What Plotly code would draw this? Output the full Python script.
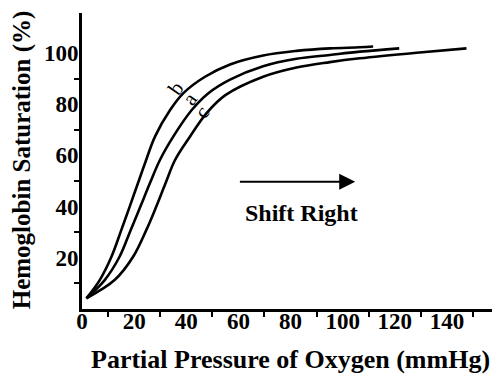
import plotly.graph_objects as go

# Oxygen-hemoglobin dissociation curves
b_po2 = [1.7, 6.8, 11.3, 15.1, 18.3, 21.9, 24.2, 28.0, 33.8, 38.9, 47.2, 56.8, 69.5, 82.3, 95.1, 106.6, 111.7]
b_sat = [4.2, 11.3, 20.4, 30.9, 40.0, 50.4, 57.0, 67.3, 77.7, 84.3, 90.7, 95.5, 99.0, 100.8, 101.8, 102.2, 102.5]

a_po2 = [1.7, 8.7, 14.4, 18.7, 22.4, 26.0, 29.9, 35.0, 42.1, 48.5, 56.8, 69.5, 82.3, 95.1, 106.6, 121.7]
a_sat = [4.2, 11.3, 20.4, 30.9, 40.0, 49.0, 58.2, 67.3, 77.7, 84.3, 89.6, 94.8, 97.7, 99.2, 100.5, 101.8]

c_po2 = [1.7, 12.5, 19.6, 24.7, 28.5, 32.0, 35.7, 41.4, 47.8, 55.0, 69.5, 82.3, 95.1, 106.6, 128.4, 147.5]
c_sat = [4.2, 11.3, 20.4, 30.9, 40.0, 49.0, 58.2, 67.3, 76.5, 83.5, 90.7, 94.3, 96.4, 97.9, 100.1, 101.8]

curve_labels = ["b", "a", "c"]
label_po2 = [36.0, 41.3, 46.0]
label_sat = [86.5, 82.0, 77.0]

x_ticks = [0, 20, 40, 60, 80, 100, 120, 140]
x_minor = [10, 30, 50, 70, 90, 110, 130, 150]
y_ticks = [20, 40, 60, 80, 100]
y_minor = [10, 30, 50, 70, 90]

arrow_from = (60, 49.7)
arrow_to = (104.8, 49.7)
arrow_text = "Shift Right"
arrow_text_pos = (84.3, 37.4)

FONT = "Liberation Serif"

fig = go.Figure()
for xs, ys in [(b_po2, b_sat), (a_po2, a_sat), (c_po2, c_sat)]:
    fig.add_trace(go.Scatter(x=xs, y=ys, mode="lines",
                             line=dict(color="black", width=2.6, shape="spline", smoothing=1.0),
                             showlegend=False, hoverinfo="skip"))

for t, xv, yv in zip(curve_labels, label_po2, label_sat):
    fig.add_annotation(x=xv, y=yv, text=t, showarrow=False, textangle=-55,
                       font=dict(family=FONT, size=21, color="black"))

fig.add_annotation(x=arrow_to[0], y=arrow_to[1], ax=arrow_from[0], ay=arrow_from[1],
                   xref="x", yref="y", axref="x", ayref="y", text="",
                   showarrow=True, arrowhead=2, arrowsize=1.6, arrowwidth=2, arrowcolor="black")
fig.add_annotation(x=arrow_text_pos[0], y=arrow_text_pos[1], text="<b>" + arrow_text + "</b>",
                   showarrow=False,
                   font=dict(family=FONT, size=24, color="black"))

fig.add_annotation(x=0.5085, y=-0.172, xref="paper", yref="paper",
                   text="<b>Partial Pressure of Oxygen (mmHg)</b>", showarrow=False,
                   xanchor="center", yanchor="middle",
                   font=dict(family=FONT, size=26, color="black"))
fig.add_annotation(x=-0.146, y=0.503, xref="paper", yref="paper",
                   text="<b>Hemoglobin Saturation (%)</b>", showarrow=False, textangle=-90,
                   xanchor="center", yanchor="middle",
                   font=dict(family=FONT, size=25, color="black"))

fig.update_xaxes(range=[0, 157.3], showgrid=False, zeroline=False,
                 showline=True, linewidth=3, linecolor="black",
                 tickmode="array", tickvals=x_ticks, ticktext=["<b>%d</b>" % v for v in x_ticks],
                 ticks="", ticklabelstandoff=-11,
                 tickfont=dict(family=FONT, size=23, color="black"),
                 minor=dict(tickmode="array", tickvals=x_minor, ticks="outside",
                            ticklen=5, tickwidth=2, tickcolor="black", showgrid=False))
fig.update_yaxes(range=[0, 115.6], showgrid=False, zeroline=False,
                 showline=True, linewidth=3, linecolor="black",
                 tickmode="array", tickvals=y_ticks, ticktext=["<b>%d</b>" % v for v in y_ticks],
                 ticks="", ticklabelstandoff=-4,
                 tickfont=dict(family=FONT, size=23, color="black"),
                 minor=dict(tickmode="array", tickvals=y_minor, ticks="outside",
                            ticklen=5, tickwidth=2, tickcolor="black", showgrid=False))

fig.update_layout(width=495, height=376, margin=dict(l=82, r=3, t=13, b=67, autoexpand=False),
                  plot_bgcolor="white", paper_bgcolor="white")

fig.write_html("out.html", config={"displayModeBar": False},
               post_script="document.body.style.margin='0';")
